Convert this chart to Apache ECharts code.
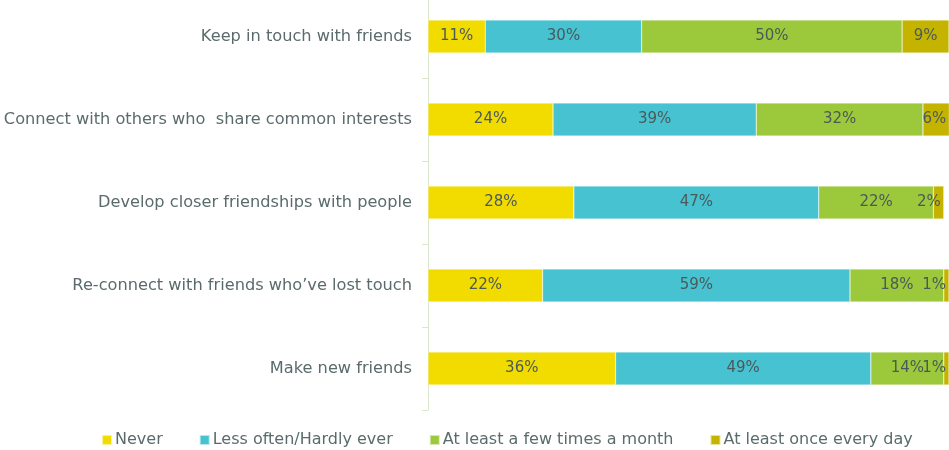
<!DOCTYPE html>
<html>
<head>
<meta charset="utf-8">
<script src="https://cdn.jsdelivr.net/npm/echarts@6/dist/echarts.min.js"></script>
<style>
  html, body { margin: 0; padding: 0; background: #ffffff; }
  #chart { width: 949px; height: 450px; }
</style>
</head>
<body>
<div id="chart"></div>
<script>
// Activities, top to bottom
const categories = [
  'Keep in touch with friends',
  'Connect with others who  share common interests',
  'Develop closer friendships with people',
  'Re-connect with friends who\u2019ve lost touch',
  'Make new friends'
];
const seriesNames = [
  'Never',
  'Less often/Hardly ever',
  'At least a few times a month',
  'At least once every day'
];
// Percent of respondents per frequency, in category order
const never      = [11, 24, 28, 22, 36];
const lessOften  = [30, 39, 47, 59, 49];
const fewMonthly = [50, 32, 22, 18, 14];
const everyDay   = [9, 6, 2, 1, 1];

const values = [never, lessOften, fewMonthly, everyDay];
const colors = ['#f2dc00', '#46c2d1', '#9bc93b', '#c4b400'];
const FONT = "'DejaVu Sans', sans-serif";

// Tiny end segments get their label pulled inside the plot's right edge
function toData(arr, isLast) {
  return arr.map(v => (isLast && v < 9)
    ? { value: v, label: { position: 'insideRight', distance: 3 } }
    : v);
}

const chart = echarts.init(document.getElementById('chart'));
chart.setOption({
  animation: false,
  textStyle: { fontFamily: FONT },
  grid: { left: 428, right: 0, top: -5, bottom: 40, containLabel: false, outerBoundsMode: 'none' },
  legend: {
    bottom: 2,
    left: 101,
    padding: 0,
    itemWidth: 10,
    itemHeight: 10,
    itemGap: 36,
    icon: 'rect',
    textStyle: { color: '#5b6b6b', fontSize: 16, fontFamily: FONT, padding: [0, 0, 0, -2] },
    data: seriesNames
  },
  xAxis: {
    type: 'value',
    min: 0,
    max: 100,
    show: false
  },
  yAxis: {
    type: 'category',
    inverse: true,
    data: categories,
    axisLine: { show: true, lineStyle: { color: '#d9e8cc', width: 1 } },
    axisTick: { show: true, length: 6, lineStyle: { color: '#d9e8cc' } },
    axisLabel: { color: '#5b6b6b', fontSize: 16.2, margin: 16, fontFamily: FONT }
  },
  series: values.map((arr, i) => ({
    name: seriesNames[i],
    type: 'bar',
    stack: 'total',
    barWidth: 33,
    data: toData(arr, i === values.length - 1),
    itemStyle: { color: colors[i], borderColor: 'rgba(255,255,255,0.6)', borderWidth: 0.5 },
    label: {
      show: true,
      position: 'inside',
      formatter: '{c}%',
      color: '#4a5a5a',
      fontSize: 15,
      fontFamily: FONT
    }
  }))
});
</script>
</body>
</html>
